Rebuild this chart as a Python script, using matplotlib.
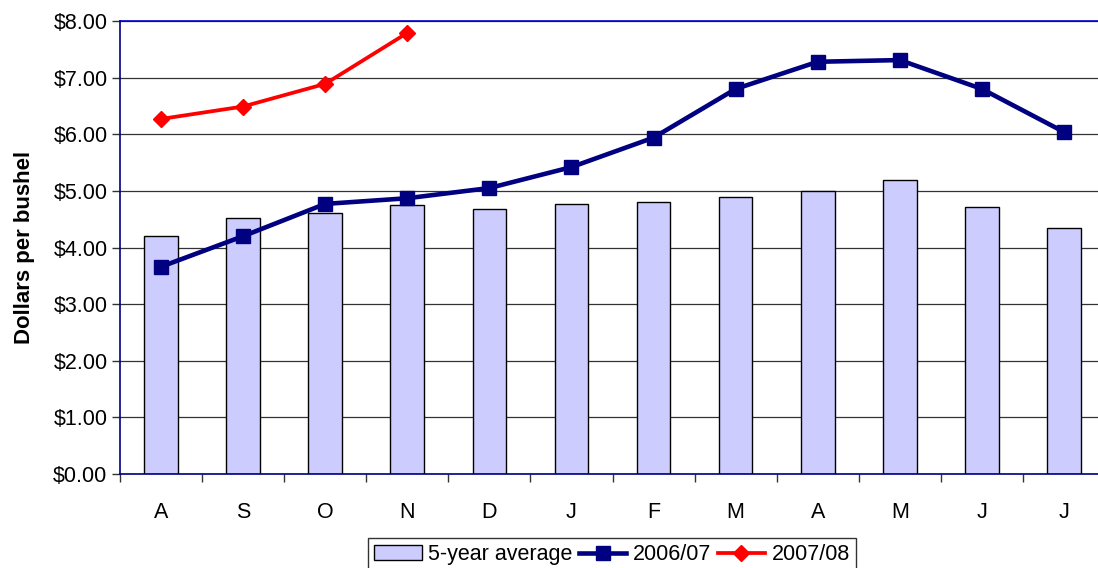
import matplotlib
matplotlib.use("Agg")
import matplotlib.pyplot as plt
import numpy as np
from matplotlib.ticker import FixedLocator, FuncFormatter

plt.rcParams['font.family'] = ['Liberation Sans', 'DejaVu Sans']

months = ["A", "S", "O", "N", "D", "J", "F", "M", "A", "M", "J", "J"]
avg5 = [4.20, 4.52, 4.61, 4.75, 4.68, 4.77, 4.80, 4.89, 5.00, 5.20, 4.72, 4.35]
y2006 = [3.66, 4.20, 4.77, 4.87, 5.05, 5.42, 5.94, 6.80, 7.28, 7.31, 6.80, 6.04]
y2007 = [6.27, 6.49, 6.89, 7.79]
yticks = [0, 1, 2, 3, 4, 5, 6, 7, 8]

fig = plt.figure(figsize=(10.98, 5.68), dpi=100)
ax = fig.add_axes([120/1098, 94/568, 985/1098, 453/568])

x = np.arange(len(months))
b = ax.bar(x, avg5, width=0.41, color='#CCCCFF', edgecolor='black', linewidth=1.0,
           label='5-year average', zorder=2)
l1, = ax.plot(x, y2006, color='#000080', lw=3.3, marker='s', markersize=10,
              label='2006/07', zorder=3)
l2, = ax.plot(x[:len(y2007)], y2007, color='#FF0000', lw=2.7, marker='D', markersize=8.5,
              label='2007/08', zorder=3)

ax.set_xlim(-0.5, len(months) - 0.5)
ax.set_ylim(0, 8)
ax.set_yticks(yticks)
ax.yaxis.set_major_formatter(FuncFormatter(lambda v, p: f"${v:.2f}"))
ax.yaxis.grid(True, color='#333333', lw=0.9, zorder=0)
ax.set_axisbelow(True)

ax.xaxis.set_major_locator(FixedLocator(np.arange(-0.5, len(months), 1.0)))
ax.xaxis.set_major_formatter(FuncFormatter(lambda v, p: ""))
ax.xaxis.set_minor_locator(FixedLocator(x))
ax.set_xticklabels(months, minor=True)
ax.tick_params(axis='x', which='major', length=6, width=1, color='#333333', direction='out')
ax.tick_params(axis='x', which='minor', length=0, pad=20, labelsize=15.5)
ax.tick_params(axis='y', length=6, width=1, color='#333333', direction='out', labelsize=15.5, pad=3)

for s in ['left', 'bottom']:
    ax.spines[s].set_color('#000080')
    ax.spines[s].set_linewidth(1.2)
ax.spines['top'].set_color('#0000CC')
ax.spines['top'].set_linewidth(1.2)
ax.spines['right'].set_visible(False)

ax.set_ylabel("Dollars per bushel", fontsize=16, fontweight='bold', labelpad=13)

leg = fig.legend([b, l1, l2], ['5-year average', '2006/07', '2007/08'],
                 loc='upper center', bbox_to_anchor=(612/1098, 30/568), ncol=3,
                 fontsize=15.5, frameon=True, fancybox=False, edgecolor='black',
                 handlelength=2.2, handletextpad=0.3, columnspacing=0.3,
                 borderpad=0.3, borderaxespad=0)
leg.get_frame().set_linewidth(1.0)

fig.savefig("out.png", dpi=100)
